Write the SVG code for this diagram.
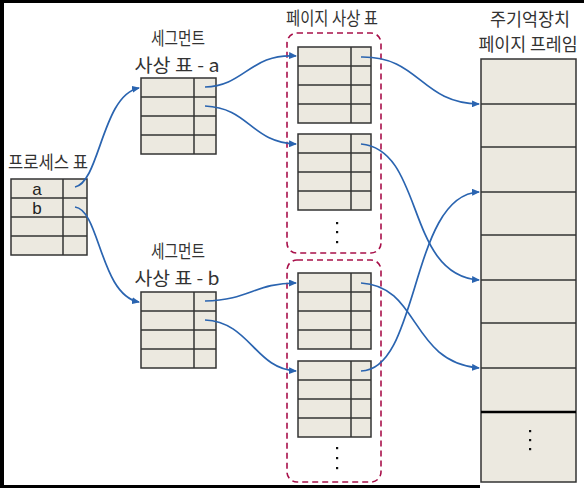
<svg xmlns="http://www.w3.org/2000/svg" width="584" height="488" viewBox="0 0 584 488">
<style>
.t{font-family:"Noto Sans CJK KR","Noto Sans",sans-serif;font-size:18px;fill:#333}
.l{font-family:"Liberation Sans",Arial,sans-serif;font-size:17px;fill:#222}
.box{fill:#ece9e0;stroke:#333;stroke-width:1.5}
.ln{stroke:#333;stroke-width:1.5}
.dash{fill:none;stroke:#a8104a;stroke-width:1.6;stroke-dasharray:6 4}
.c{fill:none;stroke:#2a64b0;stroke-width:1.7}
.dot{fill:#111}
</style>
<defs>
<marker id="ah" markerUnits="userSpaceOnUse" markerWidth="8" markerHeight="7" refX="7" refY="3.5" orient="auto">
<path d="M0,0 L8,3.5 L0,7 z" fill="#2a64b0"/>
</marker>
</defs>
<rect x="0" y="0" width="584" height="488" fill="#fff"/>
<rect x="0" y="0" width="584" height="3" fill="#000"/>
<rect x="0" y="0" width="4" height="488" fill="#000"/>
<rect x="0" y="485" width="480" height="3" fill="#000"/>

<g id="process-table">
<text class="t" x="8" y="169" textLength="80" lengthAdjust="spacingAndGlyphs">프로세스 표</text>
<rect class="box" x="11" y="179" width="76" height="76"/>
<line class="ln" x1="11" y1="198" x2="87" y2="198"/>
<line class="ln" x1="11" y1="217" x2="87" y2="217"/>
<line class="ln" x1="11" y1="236" x2="87" y2="236"/>
<line class="ln" x1="63" y1="179" x2="63" y2="255"/>
<text class="l" x="37" y="195" text-anchor="middle">a</text>
<text class="l" x="37" y="214" text-anchor="middle">b</text>
</g>

<g id="segment-table-a">
<text class="t" x="178" y="45" text-anchor="middle" textLength="54" lengthAdjust="spacingAndGlyphs">세그먼트</text>
<text class="t" x="177" y="72" text-anchor="middle" textLength="85" lengthAdjust="spacingAndGlyphs">사상 표 - a</text>
<rect class="box" x="141" y="78" width="75" height="76"/>
<line class="ln" x1="141" y1="97" x2="216" y2="97"/>
<line class="ln" x1="141" y1="116" x2="216" y2="116"/>
<line class="ln" x1="141" y1="135" x2="216" y2="135"/>
<line class="ln" x1="194" y1="78" x2="194" y2="154"/>
</g>

<g id="segment-table-b">
<text class="t" x="178" y="258" text-anchor="middle" textLength="54" lengthAdjust="spacingAndGlyphs">세그먼트</text>
<text class="t" x="177" y="285" text-anchor="middle" textLength="85" lengthAdjust="spacingAndGlyphs">사상 표 - b</text>
<rect class="box" x="141" y="292" width="75" height="76"/>
<line class="ln" x1="141" y1="311" x2="216" y2="311"/>
<line class="ln" x1="141" y1="330" x2="216" y2="330"/>
<line class="ln" x1="141" y1="349" x2="216" y2="349"/>
<line class="ln" x1="194" y1="292" x2="194" y2="368"/>
</g>

<g id="page-table-group-1">
<text class="t" x="332" y="25" text-anchor="middle" textLength="92" lengthAdjust="spacingAndGlyphs">페이지 사상 표</text>
<rect class="dash" x="287" y="33" width="94" height="220" rx="10"/>
<rect class="box" x="298" y="47" width="73" height="76"/>
<line class="ln" x1="298" y1="66" x2="371" y2="66"/>
<line class="ln" x1="298" y1="85" x2="371" y2="85"/>
<line class="ln" x1="298" y1="104" x2="371" y2="104"/>
<line class="ln" x1="351" y1="47" x2="351" y2="123"/>
<rect class="box" x="298" y="134" width="73" height="76"/>
<line class="ln" x1="298" y1="153" x2="371" y2="153"/>
<line class="ln" x1="298" y1="172" x2="371" y2="172"/>
<line class="ln" x1="298" y1="191" x2="371" y2="191"/>
<line class="ln" x1="351" y1="134" x2="351" y2="210"/>
<rect class="dot" x="336" y="222" width="2.2" height="2.2"/>
<rect class="dot" x="336" y="231" width="2.2" height="2.2"/>
<rect class="dot" x="336" y="241" width="2.2" height="2.2"/>
</g>

<g id="page-table-group-2">
<rect class="dash" x="287" y="260" width="94" height="222" rx="10"/>
<rect class="box" x="298" y="273" width="73" height="76"/>
<line class="ln" x1="298" y1="292" x2="371" y2="292"/>
<line class="ln" x1="298" y1="311" x2="371" y2="311"/>
<line class="ln" x1="298" y1="330" x2="371" y2="330"/>
<line class="ln" x1="351" y1="273" x2="351" y2="349"/>
<rect class="box" x="298" y="361" width="73" height="76"/>
<line class="ln" x1="298" y1="380" x2="371" y2="380"/>
<line class="ln" x1="298" y1="399" x2="371" y2="399"/>
<line class="ln" x1="298" y1="418" x2="371" y2="418"/>
<line class="ln" x1="351" y1="361" x2="351" y2="437"/>
<rect class="dot" x="336" y="447" width="2.2" height="2.2"/>
<rect class="dot" x="336" y="457" width="2.2" height="2.2"/>
<rect class="dot" x="336" y="467" width="2.2" height="2.2"/>
</g>

<g id="main-memory">
<text class="t" x="530" y="26" text-anchor="middle" textLength="80" lengthAdjust="spacingAndGlyphs">주기억장치</text>
<text class="t" text-anchor="middle" transform="translate(528,51) scale(0.96,1)">페이지 프레임</text>
<rect class="box" x="481" y="59" width="95" height="423"/>
<line class="ln" x1="481" y1="104" x2="576" y2="104" stroke="#555" stroke-width="2"/>
<line class="ln" x1="481" y1="147" x2="576" y2="147"/>
<line class="ln" x1="481" y1="192" x2="576" y2="192" stroke="#555" stroke-width="2"/>
<line class="ln" x1="481" y1="235" x2="576" y2="235"/>
<line class="ln" x1="481" y1="280" x2="576" y2="280" stroke="#555" stroke-width="2"/>
<line class="ln" x1="481" y1="323" x2="576" y2="323"/>
<line class="ln" x1="481" y1="368" x2="576" y2="368" stroke="#555" stroke-width="2"/>
<line x1="481" y1="412" x2="576" y2="412" stroke="#000" stroke-width="2.5"/>
<rect class="dot" x="529" y="430" width="2.2" height="2.2"/>
<rect class="dot" x="529" y="439" width="2.2" height="2.2"/>
<rect class="dot" x="529" y="448" width="2.2" height="2.2"/>
</g>

<g id="connectors">
<path class="c" marker-end="url(#ah)" d="M75,187 C100,182 102,95 139,88"/>
<path class="c" marker-end="url(#ah)" d="M75,207 C100,210 100,295 139,302"/>
<path class="c" marker-end="url(#ah)" d="M205,87 C245,86 250,53 296,56"/>
<path class="c" marker-end="url(#ah)" d="M205,106 C250,108 250,142 296,144"/>
<path class="c" marker-end="url(#ah)" d="M205,301 C250,300 255,283 296,283"/>
<path class="c" marker-end="url(#ah)" d="M205,320 C250,322 255,369 296,371"/>
<path class="c" marker-end="url(#ah)" d="M361,57 C420,56 420,103 479,104"/>
<path class="c" marker-end="url(#ah)" d="M361,144 C425,150 405,275 479,280"/>
<path class="c" marker-end="url(#ah)" d="M361,283 C420,286 410,362 479,368"/>
<path class="c" marker-end="url(#ah)" d="M361,371 C420,370 410,195 479,192"/>
</g>
</svg>
